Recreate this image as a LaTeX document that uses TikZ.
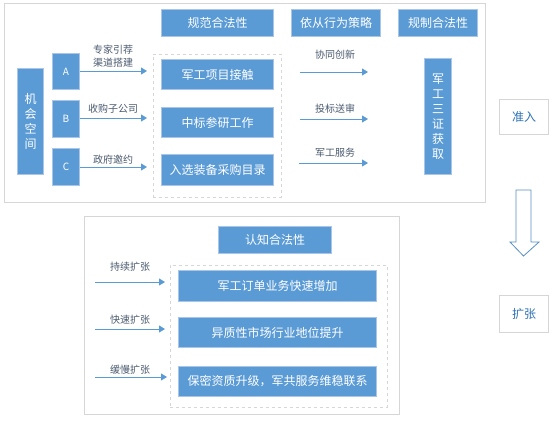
\documentclass[tikz,border=0pt]{standalone}
\usepackage{fontspec}
\newfontfamily\cjk{Noto Sans CJK SC}
\usetikzlibrary{arrows.meta}
\definecolor{bluebox}{HTML}{5B9BD5}
\definecolor{blueedge}{HTML}{A9C5E8}
\definecolor{labelc}{HTML}{4B5B70}
\definecolor{framec}{HTML}{D6D6D6}
\definecolor{arrowc}{HTML}{5B9BD5}
\definecolor{tagc}{HTML}{2E74B5}
\begin{document}
\begin{tikzpicture}[x=1pt,y=-1pt,
  bx/.style={fill=bluebox, draw=blueedge, line width=1pt, text=white,
    font=\cjk\fontsize{12}{15}\selectfont, inner sep=0pt, align=center, anchor=north west},
  frame/.style={draw=framec, line width=1pt, fill=white},
  dashframe/.style={draw=framec, dashed, line width=0.8pt},
  lbl/.style={text=labelc, font=\cjk\fontsize{10}{12.5}\selectfont, inner sep=0pt, align=center},
  arr/.style={draw=arrowc, line width=1pt, -{Triangle[length=6pt,width=7pt]}},
  tag/.style={draw=framec, line width=1pt, fill=white, text=tagc,
    font=\cjk\fontsize{12}{15}\selectfont, inner sep=0pt, anchor=north west}
]
\useasboundingbox (0,0) rectangle (554,424);
% top frame
\node[frame, anchor=north west, minimum width=481pt, minimum height=199pt, inner sep=0pt] (top) at (4,3) {};
\node[bx, minimum width=112pt, minimum height=27pt] (h1) at (161,9) {规范合法性};
\node[bx, minimum width=89pt, minimum height=27pt] (h2) at (291,9) {依从行为策略};
\node[bx, minimum width=79pt, minimum height=27pt] (h3) at (398,9) {规制合法性};
\node[bx, minimum width=26pt, minimum height=106pt] (jh) at (17,68) {机\\会\\空\\间};
\node[bx, minimum width=27pt, minimum height=36pt, font=\cjk\fontsize{10}{12}\selectfont] (A) at (52,53) {A};
\node[bx, minimum width=27pt, minimum height=37pt, font=\cjk\fontsize{10}{12}\selectfont] (B) at (52,100) {B};
\node[bx, minimum width=27pt, minimum height=37pt, font=\cjk\fontsize{10}{12}\selectfont] (C) at (52,148) {C};
\node[dashframe, anchor=north west, minimum width=128pt, minimum height=143pt, inner sep=0pt] (dz1) at (153,54) {};
\node[bx, minimum width=112pt, minimum height=30pt] (p1) at (161,59) {军工项目接触};
\node[bx, minimum width=112pt, minimum height=30pt] (p2) at (161,107) {中标参研工作};
\node[bx, minimum width=112pt, minimum height=31pt] (p3) at (161,154) {入选装备采购目录};
\coordinate (ae) at (147,71);
\coordinate (be) at (147,118);
\coordinate (ce) at (147,167);
\draw[arr] (A.east |- ae) -- (ae);
\draw[arr] (B.east |- be) -- (be);
\draw[arr] (C.east |- ce) -- (ce);
\node[lbl] (la) at (113,56) {专家引荐\\渠道搭建};
\node[lbl] (lb) at (113,109) {收购子公司};
\node[lbl] (lc) at (113,160) {政府邀约};
\coordinate (r1s) at (300,72); \coordinate (r1e) at (368,72);
\coordinate (r2s) at (300,119); \coordinate (r2e) at (368,119);
\coordinate (r3s) at (299,163); \coordinate (r3e) at (368,163);
\draw[arr] (r1s) -- (r1e);
\draw[arr] (r2s) -- (r2e);
\draw[arr] (r3s) -- (r3e);
\node[lbl] (l1) at (335,55) {协同创新};
\node[lbl] (l2) at (335,109) {投标送审};
\node[lbl] (l3) at (335,153) {军工服务};
\node[bx, minimum width=27pt, minimum height=116pt] (sz) at (424,58) {军\\工\\三\\证\\获\\取};
% right side tags
\node[tag, minimum width=49pt, minimum height=35pt] (zr) at (499,99) {准入};
\node[tag, minimum width=49pt, minimum height=37pt] (kz) at (499,295) {扩张};
\draw[draw=tagc!80, line width=0.8pt, fill=white]
  (516,190) -- (531,190) -- (531,242) -- (539,242) -- (523.5,256) -- (510,242) -- (516,242) -- cycle;
% bottom frame
\node[frame, anchor=north west, minimum width=315pt, minimum height=198pt, inner sep=0pt] (bot) at (84,216) {};
\node[bx, minimum width=113pt, minimum height=27pt] (h4) at (218,226) {认知合法性};
\node[dashframe, anchor=north west, minimum width=217pt, minimum height=142pt, inner sep=0pt] (dz2) at (170,265) {};
\node[bx, minimum width=198pt, minimum height=31pt] (q1) at (178,270) {军工订单业务快速增加};
\node[bx, minimum width=198pt, minimum height=30pt] (q2) at (178,317) {异质性市场行业地位提升};
\node[bx, minimum width=198pt, minimum height=30pt] (q3) at (178,366) {保密资质升级，军共服务维稳联系};
\coordinate (s1s) at (95,282); \coordinate (s1e) at (165,282);
\coordinate (s2s) at (95,329); \coordinate (s2e) at (165,329);
\coordinate (s3s) at (95,377); \coordinate (s3e) at (167,377);
\draw[arr] (s1s) -- (s1e);
\draw[arr] (s2s) -- (s2e);
\draw[arr] (s3s) -- (s3e);
\node[lbl] (m1) at (130,267) {持续扩张};
\node[lbl] (m2) at (130,320) {快速扩张};
\node[lbl] (m3) at (130,370) {缓慢扩张};
\end{tikzpicture}
\end{document}
